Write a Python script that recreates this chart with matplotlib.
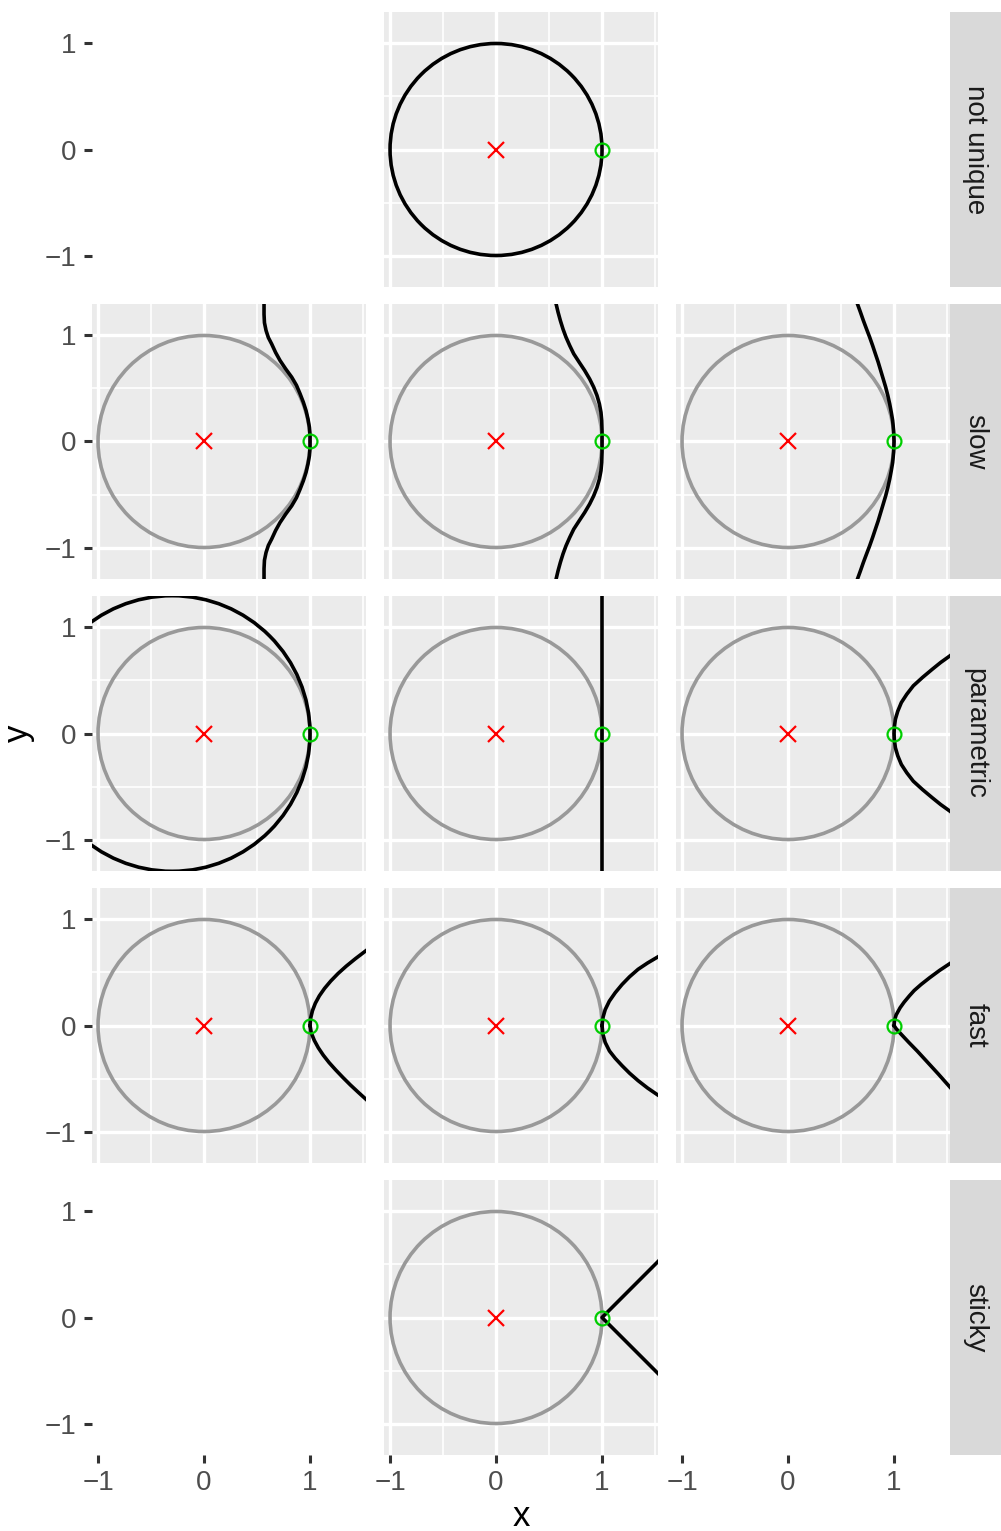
import matplotlib.pyplot as plt
from matplotlib.patches import Circle

plt.rcParams['font.family'] = ['Liberation Sans', 'DejaVu Sans']

# facet rows (right-hand strips) and shared axis settings
row_labels = ["not unique", "slow", "parametric", "fast", "sticky"]
major_ticks = [-1, 0, 1]
x_minor = [-0.5, 0.5, 1.5]
y_minor = [-0.5, 0.5]
x_lim = (-1.057, 1.528)
y_lim = (-1.297, 1.297)

pole_xy = (0, 0)
zero_xy = (1, 0)

# upper halves of the symmetric "slow" curves (mirrored below the axis)
slow_a_x = [0.566, 0.566, 0.570, 0.585, 0.607, 0.638, 0.675, 0.717, 0.770, 0.827,
            0.872, 0.906, 0.937, 0.962, 0.981, 0.994, 1.0, 1.0]
slow_a_y = [1.35, 1.20, 1.12, 1.047, 0.98, 0.92, 0.84, 0.764, 0.685, 0.607,
            0.53, 0.45, 0.37, 0.292, 0.21, 0.135, 0.06, 0.0]
slow_b_x = [0.552, 0.566, 0.585, 0.607, 0.632, 0.660, 0.695, 0.733, 0.783, 0.836,
            0.883, 0.921, 0.952, 0.975, 0.990, 0.997, 1.0, 1.0]
slow_b_y = [1.35, 1.30, 1.22, 1.14, 1.06, 0.984, 0.905, 0.827, 0.75, 0.67,
            0.59, 0.513, 0.435, 0.355, 0.275, 0.198, 0.10, 0.0]
slow_c_x = [0.640, 0.654, 0.683, 0.711, 0.741, 0.770, 0.798, 0.824, 0.850, 0.874,
            0.898, 0.921, 0.941, 0.959, 0.974, 0.987, 0.996, 1.0]
slow_c_y = [1.35, 1.30, 1.22, 1.14, 1.06, 0.984, 0.905, 0.827, 0.75, 0.67,
            0.59, 0.513, 0.435, 0.355, 0.275, 0.198, 0.10, 0.0]

# parametric row
param_b_x = [1.0, 1.0]
param_b_y = [-1.4, 1.4]
param_c_x = [1.60, 1.528, 1.44, 1.362, 1.27, 1.182, 1.12, 1.069, 1.035, 1.013, 1.003, 1.0]
param_c_y = [0.79, 0.733, 0.67, 0.607, 0.53, 0.45, 0.37, 0.292, 0.21, 0.135, 0.06, 0.0]
param_a_center = (-0.3, 0.0)
param_a_radius = 1.3

# fast row: separate upper and lower branches
fast_a_up_x = [1.0, 1.006, 1.023, 1.05, 1.088, 1.137, 1.196, 1.264, 1.342, 1.428, 1.52, 1.60]
fast_a_up_y = [0.0, 0.07, 0.14, 0.21, 0.28, 0.35, 0.42, 0.49, 0.56, 0.63, 0.70, 0.76]
fast_a_lo_x = [1.0, 1.012, 1.04, 1.078, 1.125, 1.18, 1.243, 1.31, 1.38, 1.455, 1.532, 1.60]
fast_a_lo_y = [0.0, -0.07, -0.14, -0.21, -0.28, -0.35, -0.42, -0.49, -0.56, -0.63, -0.70, -0.76]
fast_b_up_x = [1.0, 1.01, 1.03, 1.069, 1.125, 1.189, 1.26, 1.34, 1.43, 1.528, 1.60]
fast_b_up_y = [0.0, 0.08, 0.15, 0.23, 0.31, 0.387, 0.46, 0.53, 0.59, 0.648, 0.69]
fast_b_lo_x = [1.0, 1.008, 1.03, 1.07, 1.125, 1.19, 1.26, 1.34, 1.43, 1.528, 1.60]
fast_b_lo_y = [0.0, -0.08, -0.16, -0.24, -0.31, -0.38, -0.45, -0.52, -0.59, -0.657, -0.70]
fast_c_up_x = [1.0, 1.005, 1.02, 1.057, 1.095, 1.145, 1.19, 1.255, 1.335, 1.43, 1.528, 1.60]
fast_c_up_y = [0.0, 0.05, 0.10, 0.167, 0.22, 0.28, 0.33, 0.387, 0.45, 0.52, 0.585, 0.63]
fast_c_lo_x = [1.0, 1.02, 1.065, 1.14, 1.22, 1.31, 1.42, 1.528, 1.60]
fast_c_lo_y = [0.0, -0.03, -0.08, -0.16, -0.242, -0.34, -0.46, -0.582, -0.66]

# sticky row
sticky_x = [1.6, 1.0, 1.6]
sticky_y = [0.6, 0.0, -0.6]


def mirror(xs, ys):
    return xs + xs[::-1], ys + [-v for v in ys[::-1]]


curves = {
    (1, 0): [mirror(slow_a_x, slow_a_y)],
    (1, 1): [mirror(slow_b_x, slow_b_y)],
    (1, 2): [mirror(slow_c_x, slow_c_y)],
    (2, 1): [(param_b_x, param_b_y)],
    (2, 2): [mirror(param_c_x, param_c_y)],
    (3, 0): [(fast_a_up_x, fast_a_up_y), (fast_a_lo_x, fast_a_lo_y)],
    (3, 1): [(fast_b_up_x, fast_b_up_y), (fast_b_lo_x, fast_b_lo_y)],
    (3, 2): [(fast_c_up_x, fast_c_up_y), (fast_c_lo_x, fast_c_lo_y)],
    (4, 1): [(sticky_x, sticky_y)],
}
blank = [(0, 0), (0, 2), (4, 0), (4, 2)]

W, H = 1001, 1531
fig = plt.figure(figsize=(W / 200, H / 200), dpi=200)

col_left = [92, 384, 676]
row_top = [12, 304, 596, 888, 1180]
pw, ph = 274, 275
strip_w = 51

tick_col = "#333333"
label_col = "#4D4D4D"
line_w = 1.3

for r in range(5):
    for c in range(3):
        ax = fig.add_axes([col_left[c] / W, 1 - (row_top[r] + ph) / H, pw / W, ph / H])
        ax.set_xlim(*x_lim)
        ax.set_ylim(*y_lim)
        ax.set_xticks(major_ticks)
        ax.set_yticks(major_ticks)
        ax.set_xticks(x_minor, minor=True)
        ax.set_yticks(y_minor, minor=True)
        for s in ax.spines.values():
            s.set_visible(False)
        ax.tick_params(which="minor", length=0)
        ax.tick_params(which="major", length=2.9, width=1.1, color=tick_col,
                       labelcolor=label_col, labelsize=10, pad=2.6,
                       left=(c == 0), labelleft=(c == 0),
                       bottom=(r == 4), labelbottom=(r == 4))

        if (r, c) in blank:
            ax.set_facecolor("none")
            continue

        ax.set_facecolor("#EBEBEB")
        ax.set_axisbelow(True)
        ax.grid(which="major", color="white", lw=1.2)
        ax.grid(which="minor", color="white", lw=0.6)

        ring = "black" if r == 0 else "#999999"
        ax.add_patch(Circle((0, 0), 1, fill=False, ec=ring, lw=line_w, zorder=2))
        if (r, c) == (2, 0):
            ax.add_patch(Circle(param_a_center, param_a_radius, fill=False,
                                ec="black", lw=line_w, zorder=3))
        for xs, ys in curves.get((r, c), []):
            ax.plot(xs, ys, color="black", lw=line_w, zorder=3,
                    solid_joinstyle="round")
        ax.plot(*pole_xy, marker="x", color="red", ms=5.6, mew=0.8, zorder=4)
        ax.plot(*zero_xy, marker="o", mfc="none", mec="#00CD00", ms=5.0,
                mew=0.8, zorder=4, clip_on=False)

    # strip on the right of each row
    sax = fig.add_axes([950 / W, 1 - (row_top[r] + ph) / H, strip_w / W, ph / H])
    sax.set_facecolor("#D9D9D9")
    sax.set_xticks([])
    sax.set_yticks([])
    for s in sax.spines.values():
        s.set_visible(False)
    sax.text(0.5, 0.5, row_labels[r], rotation=-90, ha="center", va="center",
             color="#1A1A1A", fontsize=10, transform=sax.transAxes)

fig.text(521 / W, 1 - 1516 / H, "x", ha="center", va="center", fontsize=12.5)
fig.text(18 / W, 1 - 733 / H, "y", ha="center", va="center", fontsize=12.5, rotation=90)

fig.savefig("out.png", dpi=200, facecolor="white")
